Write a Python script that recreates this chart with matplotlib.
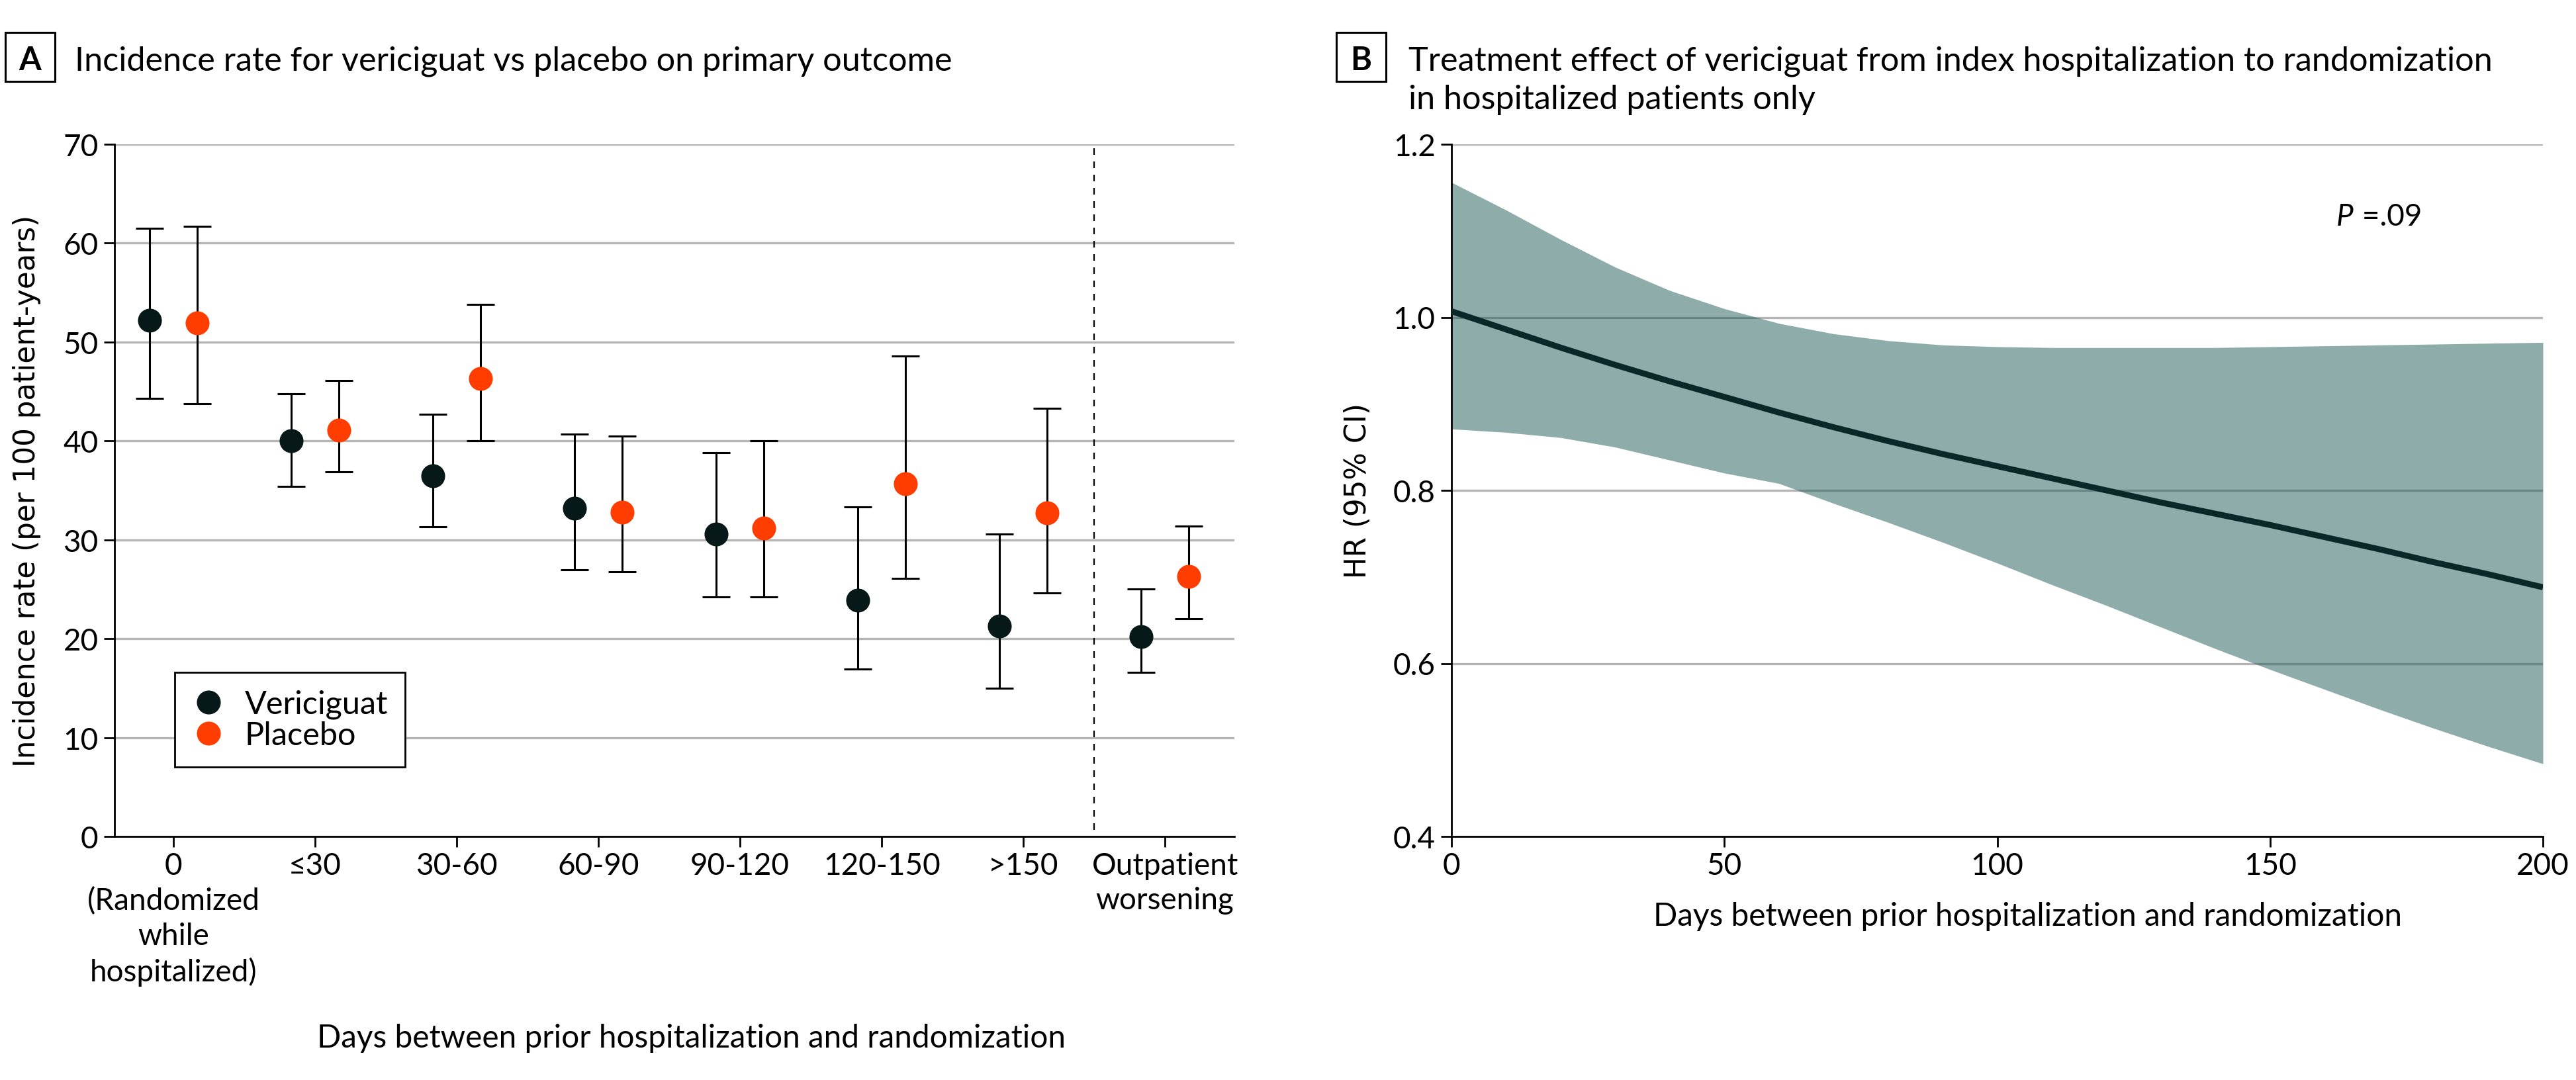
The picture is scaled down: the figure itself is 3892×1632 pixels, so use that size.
import matplotlib
matplotlib.use("Agg")
import matplotlib.pyplot as plt
from matplotlib.patches import Rectangle
import numpy as np

# ---------------- data ----------------
categories = ["0\n(Randomized\nwhile\nhospitalized)", "≤30", "30-60", "60-90",
              "90-120", "120-150", ">150", "Outpatient\nworsening"]
veric_rate = [52.2, 40.0, 36.5, 33.2, 30.6, 23.9, 21.3, 20.2]
veric_lo = [44.3, 35.4, 31.3, 27.0, 24.2, 16.9, 15.0, 16.6]
veric_hi = [61.5, 44.8, 42.7, 40.7, 38.8, 33.3, 30.6, 25.0]
plac_rate = [51.9, 41.1, 46.3, 32.8, 31.2, 35.7, 32.7, 26.3]
plac_lo = [43.8, 36.9, 40.0, 26.8, 24.2, 26.1, 24.6, 22.0]
plac_hi = [61.7, 46.1, 53.8, 40.5, 40.0, 48.6, 43.3, 31.4]
yticks_a = [0, 10, 20, 30, 40, 50, 60, 70]

days = [0, 10, 20, 30, 40, 50, 60, 70, 80, 90, 100, 110, 120, 130, 140,
        150, 160, 170, 180, 190, 200]
hr = [1.007, 0.986, 0.965, 0.945, 0.926, 0.908, 0.890, 0.873, 0.857, 0.842,
      0.828, 0.814, 0.800, 0.786, 0.773, 0.760, 0.746, 0.732, 0.717, 0.703, 0.688]
hr_lo = [0.871, 0.867, 0.861, 0.850, 0.835, 0.820, 0.808, 0.785, 0.763, 0.740,
         0.716, 0.691, 0.667, 0.642, 0.617, 0.593, 0.570, 0.547, 0.525, 0.504, 0.484]
hr_hi = [1.156, 1.124, 1.090, 1.058, 1.031, 1.010, 0.993, 0.981, 0.973, 0.968,
         0.966, 0.965, 0.965, 0.965, 0.965, 0.966, 0.967, 0.968, 0.969, 0.970, 0.971]
xticks_b = [0, 50, 100, 150, 200]
yticks_b = [0.4, 0.6, 0.8, 1.0, 1.2]

# ---------------- style ----------------
W, H = 3892, 1633
DPI = 100
plt.rcParams['font.family'] = ['Lato', 'DejaVu Sans']
FS = 33
TFS = 36.3
LFS = 34.4
YLFS = 31.4
VER_C = '#061818'
PLA_C = '#ff3d00'
GRID_C = '#b5b5b5'

fig = plt.figure(figsize=(W / DPI, H / DPI), dpi=DPI)

def fx(px):
    return px / W

def fy(py):
    return 1 - py / H

ax_top, ax_bot = 219, 1265
axA = fig.add_axes([fx(173), fy(ax_bot), fx(1865) - fx(173), (ax_bot - ax_top) / H])
axB = fig.add_axes([fx(2193), fy(ax_bot), fx(3842) - fx(2193), (ax_bot - ax_top) / H])

for ax in (axA, axB):
    for s in ('top', 'right'):
        ax.spines[s].set_visible(False)
    for s in ('left', 'bottom'):
        ax.spines[s].set_linewidth(2.0)
        ax.spines[s].set_color('black')
    ax.tick_params(axis='both', direction='out', length=11.5, width=2.0,
                   labelsize=FS, colors='black')
    ax.tick_params(axis='y', pad=6)
    ax.tick_params(axis='x', pad=5)
    ax.set_axisbelow(True)
    ax.yaxis.grid(True, color=GRID_C, linewidth=2.4)

# ---------------- panel A ----------------
xpos = np.arange(len(categories))
off = 0.168
xv = xpos - off
xp = xpos + off
ve = [np.array(veric_rate) - np.array(veric_lo), np.array(veric_hi) - np.array(veric_rate)]
pe = [np.array(plac_rate) - np.array(plac_lo), np.array(plac_hi) - np.array(plac_rate)]
axA.errorbar(xv, veric_rate, yerr=ve, fmt='none', ecolor='black', elinewidth=2.2,
             capsize=15, capthick=2.2, zorder=3)
axA.errorbar(xp, plac_rate, yerr=pe, fmt='none', ecolor='black', elinewidth=2.2,
             capsize=15, capthick=2.2, zorder=3)
axA.plot(xv, veric_rate, 'o', color=VER_C, markersize=26, mew=0, label='Vericiguat', zorder=4)
axA.plot(xp, plac_rate, 'o', color=PLA_C, markersize=26, mew=0, label='Placebo', zorder=4)
axA.axvline(6.5, ymin=0.01, ymax=1, color='black', linewidth=1.6,
            linestyle=(0, (4.5, 4.5)), zorder=2)

axA.set_xlim(-0.416, 7.49)
axA.set_ylim(0, 70)
axA.set_yticks(yticks_a)
axA.set_xticks(xpos)
axA.set_xticklabels(categories, linespacing=1.3)
axA.set_ylabel('Incidence rate (per 100 patient-years)', family='DejaVu Sans',
               fontsize=YLFS, va='center')
axA.yaxis.set_label_coords(-0.0786, 0.5)
axA.set_xlabel('Days between prior hospitalization and randomization', fontsize=LFS,
               va='center')
axA.xaxis.set_label_coords(0.515, -0.2906)

leg = axA.legend(loc='upper left', bbox_to_anchor=((264 - 173) / 1692, (1265 - 1017) / 1046),
                 borderaxespad=0, frameon=True, fancybox=False, edgecolor='black',
                 framealpha=1, fontsize=35, handlelength=1.03, handletextpad=0.62,
                 labelspacing=0.06, borderpad=0.53, markerscale=1.0)
leg.get_frame().set_linewidth(2.0)

# ---------------- panel B ----------------
axB.fill_between(days, hr_lo, hr_hi, color='#1f5b57', alpha=0.5, linewidth=0, zorder=1)
axB.plot(days, hr, color='#0a2828', linewidth=6.5, solid_capstyle='butt', zorder=3)
axB.set_xlim(0, 200)
axB.set_ylim(0.4, 1.2)
axB.set_xticks(xticks_b)
axB.set_yticks(yticks_b)
axB.set_yticklabels([f'{v:.1f}' for v in yticks_b])
axB.set_ylabel('HR (95% CI)', family='DejaVu Sans', fontsize=YLFS, va='center')
axB.yaxis.set_label_coords(-0.0861, 0.5)
axB.set_xlabel('Days between prior hospitalization and randomization', fontsize=LFS,
               va='center')
axB.xaxis.set_label_coords(0.5276, -0.1147)
fig.text(fx(3530), fy(341), 'P', fontsize=FS, style='italic', va='baseline', ha='left')
fig.text(fx(3557), fy(341), ' =.09', fontsize=FS, va='baseline', ha='left')

# ---------------- panel titles ----------------
for bx, letter in ((8, 'A'), (2019, 'B')):
    fig.patches.append(Rectangle((fx(bx), fy(124)), 75 / W, 74 / H, transform=fig.transFigure,
                                 fill=False, edgecolor='black', linewidth=2.2))
    fig.text(fx(bx + 37.5), fy(106), letter, fontsize=35, fontweight='bold',
             ha='center', va='baseline')

fig.text(fx(113), fy(106), 'Incidence rate for vericiguat vs placebo on primary outcome',
         fontsize=TFS, ha='left', va='baseline')
fig.text(fx(2128), fy(106), 'Treatment effect of vericiguat from index hospitalization to randomization',
         fontsize=TFS, ha='left', va='baseline')
fig.text(fx(2128), fy(165), 'in hospitalized patients only',
         fontsize=TFS, ha='left', va='baseline')

fig.savefig('out.png', dpi=DPI, facecolor='white')
